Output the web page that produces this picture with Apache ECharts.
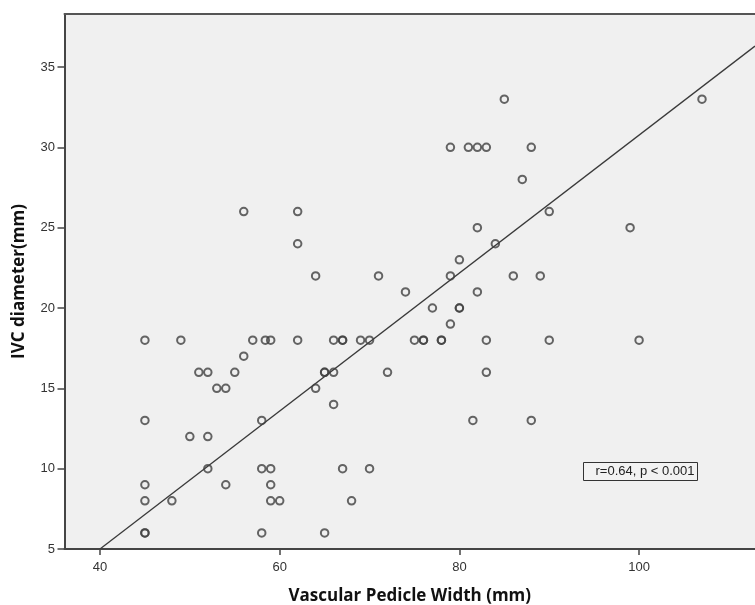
<!DOCTYPE html>
<html>
<head>
<meta charset="utf-8">
<script src="https://cdn.jsdelivr.net/npm/echarts@6/dist/echarts.min.js"></script>
<style>
html,body{margin:0;padding:0;background:#fff;}
#chart{width:755px;height:605px;}
</style>
</head>
<body>
<div id="chart"></div>
<script>
// Vascular Pedicle Width (mm)
const vpw = [
  85, 107,
  79, 81, 82, 83, 88,
  87,
  56, 62, 90,
  82, 99,
  62, 84,
  80,
  64, 71, 79, 86, 89,
  74, 82,
  77, 80, 80,
  79,
  45, 49, 57, 58.4, 59, 62, 66, 67, 67, 69, 70, 75, 76, 76, 78, 78, 83, 90, 100,
  56,
  51, 52, 55, 65, 65, 66, 72, 83,
  53, 54, 64,
  66,
  45, 58, 81.5, 88,
  50, 52,
  52, 58, 59, 67, 70,
  45, 54, 59,
  45, 48, 59, 60, 68,
  45, 45, 58, 65
];
// IVC diameter (mm)
const ivc = [
  33, 33,
  30, 30, 30, 30, 30,
  28,
  26, 26, 26,
  25, 25,
  24, 24,
  23,
  22, 22, 22, 22, 22,
  21, 21,
  20, 20, 20,
  19,
  18, 18, 18, 18, 18, 18, 18, 18, 18, 18, 18, 18, 18, 18, 18, 18, 18, 18, 18,
  17,
  16, 16, 16, 16, 16, 16, 16, 16,
  15, 15, 15,
  14,
  13, 13, 13, 13,
  12, 12,
  10, 10, 10, 10, 10,
  9, 9, 9,
  8, 8, 8, 8, 8,
  6, 6, 6, 6
];
// fit line end points (x, y)
const fitX = [40, 112.9];
const fitY = [5, 36.3];
const xTicks = [40, 60, 80, 100];
const yTicks = [5, 10, 15, 20, 25, 30, 35];
const xTitle = 'Vascular Pedicle Width (mm)';
const yTitle = 'IVC diameter(mm)';
const statText = 'r=0.64, p < 0.001';

const points = vpw.map((x, i) => [x, ivc[i]]);
const fitLine = fitX.map((x, i) => [x, fitY[i]]);

const chart = echarts.init(document.getElementById('chart'), null, {renderer: 'canvas'});
const axisFont = {fontFamily: 'Liberation Sans, Arial, sans-serif', fontSize: 13, color: '#333'};
const titleFont = {fontFamily: 'Open Sans, Liberation Sans, sans-serif', fontWeight: 'bold', fontSize: 17, color: '#111'};
chart.setOption({
  animation: false,
  backgroundColor: '#fff',
  grid: {
    left: 64.5, right: 0, top: 14, bottom: 56,
    containLabel: false, outerBoundsMode: 'none',
    show: true, backgroundColor: '#f0f0f0', borderWidth: 0
  },
  xAxis: [{
    type: 'value', min: 36.05, max: 112.9, position: 'bottom',
    name: xTitle, nameLocation: 'middle', nameGap: 39,
    nameTextStyle: titleFont,
    axisLine: {show: true, onZero: false, lineStyle: {color: '#454545', width: 2}},
    axisTick: {show: true, length: 6, customValues: xTicks, lineStyle: {color: '#454545', width: 1.5}},
    axisLabel: Object.assign({customValues: xTicks, margin: 12}, axisFont),
    splitLine: {show: false}
  }, {
    type: 'value', min: 36.05, max: 112.9, position: 'top',
    axisLine: {show: true, onZero: false, lineStyle: {color: '#555', width: 2}},
    axisTick: {show: false}, axisLabel: {show: false}, splitLine: {show: false}
  }],
  yAxis: {
    type: 'value', min: 5, max: 38.3,
    name: yTitle, nameLocation: 'middle', nameGap: 37,
    nameTextStyle: titleFont,
    axisLine: {show: true, onZero: false, lineStyle: {color: '#454545', width: 2}},
    axisTick: {show: true, length: 7, customValues: yTicks, lineStyle: {color: '#454545', width: 1.5}},
    axisLabel: Object.assign({customValues: yTicks, margin: 9.5}, axisFont),
    splitLine: {show: false}
  },
  series: [{
    type: 'line',
    data: fitLine,
    showSymbol: false,
    clip: true,
    lineStyle: {color: '#3a3a3a', width: 1.3},
    silent: true,
    z: 2
  }, {
    type: 'scatter',
    data: points,
    symbol: 'circle',
    symbolSize: 7.5,
    itemStyle: {color: 'rgba(0,0,0,0)', borderColor: '#404040', borderWidth: 2},
    z: 3
  }],
  graphic: [{
    type: 'group',
    left: 583, top: 462,
    children: [{
      type: 'rect',
      shape: {x: 0, y: 0, width: 114, height: 18},
      style: {fill: '#f2f2f2', stroke: '#333', lineWidth: 1}
    }, {
      type: 'text',
      x: 111, y: 9,
      style: {text: statText, align: 'right', verticalAlign: 'middle', font: '13px "Liberation Sans", Arial, sans-serif', fill: '#222'}
    }]
  }]
});
</script>
</body>
</html>
